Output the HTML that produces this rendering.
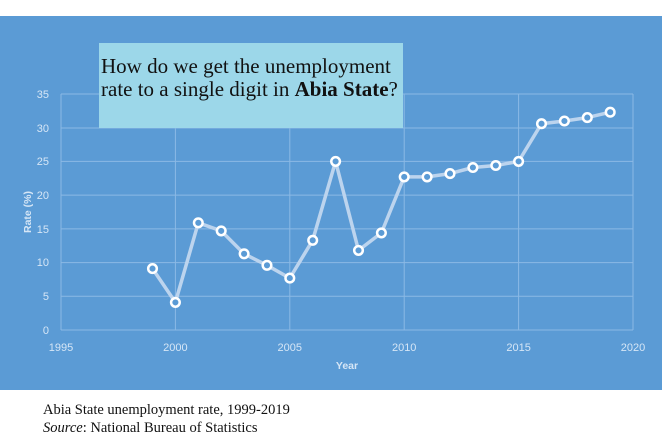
<!DOCTYPE html>
<html><head><meta charset="utf-8"><style>
body{margin:0;width:662px;height:440px;background:#fff;overflow:hidden;position:relative}
svg{position:absolute;left:0;top:0}
.box{position:absolute;left:99px;top:43px;width:304px;height:85px;background:#9cd7e9;font-family:"Liberation Serif",serif;font-size:21px;line-height:23px;color:#111;padding:12px 0 0 2px;box-sizing:border-box}
.cap{position:absolute;left:43px;top:401px;font-family:"Liberation Serif",serif;font-size:14.5px;line-height:18px;color:#111}
</style></head><body>
<svg width="662" height="440" font-family="Liberation Sans, sans-serif">
<rect x="0" y="16" width="662" height="374" fill="#5b9bd5"/>
<g stroke="#8bb9e5" stroke-width="1">
<line x1="61" y1="94" x2="633" y2="94"/><line x1="61" y1="128" x2="633" y2="128"/><line x1="61" y1="161.4" x2="633" y2="161.4"/><line x1="61" y1="195.1" x2="633" y2="195.1"/><line x1="61" y1="228.9" x2="633" y2="228.9"/><line x1="61" y1="262.6" x2="633" y2="262.6"/><line x1="61" y1="296.3" x2="633" y2="296.3"/><line x1="61" y1="330" x2="633" y2="330"/>
<line x1="61" y1="94" x2="61" y2="330"/><line x1="175.4" y1="94" x2="175.4" y2="330"/><line x1="289.8" y1="94" x2="289.8" y2="330"/><line x1="404.2" y1="94" x2="404.2" y2="330"/><line x1="518.6" y1="94" x2="518.6" y2="330"/><line x1="633" y1="94" x2="633" y2="330"/>
</g>
<g fill="#d6e6f6" font-size="11" text-anchor="end">
<text x="49" y="98">35</text><text x="49" y="132">30</text><text x="49" y="165">25</text><text x="49" y="199">20</text><text x="49" y="233">15</text><text x="49" y="266">10</text><text x="49" y="300">5</text><text x="49" y="334">0</text>
</g>
<g fill="#d6e6f6" font-size="11" text-anchor="middle">
<text x="61" y="351">1995</text><text x="175.4" y="351">2000</text><text x="289.8" y="351">2005</text><text x="404.2" y="351">2010</text><text x="518.6" y="351">2015</text><text x="633" y="351">2020</text>
<text x="347" y="369" font-weight="bold" font-size="10.5">Year</text>
<text transform="translate(31,212) rotate(-90)" font-weight="bold" font-size="10.5">Rate (%)</text>
</g>
<polyline fill="none" stroke="#bcd4ee" stroke-width="3.5" stroke-linejoin="round" points="152.5,268.6 175.4,302.4 198.3,222.8 221.2,230.9 244.1,253.8 267,265.3 289.8,278.1 312.7,240.3 335.6,161.4 358.5,250.4 381.4,232.9 404.2,176.9 427.1,176.9 450,173.6 472.9,167.5 495.8,165.5 518.6,161.4 541.5,123.7 564.4,121 587.3,117.6 610.2,112.2"/>
<g fill="#5b9bd5" stroke="#fff" stroke-width="2.5">
<circle cx="152.5" cy="268.6" r="4.3"/><circle cx="175.4" cy="302.4" r="4.3"/><circle cx="198.3" cy="222.8" r="4.3"/><circle cx="221.2" cy="230.9" r="4.3"/><circle cx="244.1" cy="253.8" r="4.3"/><circle cx="267" cy="265.3" r="4.3"/><circle cx="289.8" cy="278.1" r="4.3"/><circle cx="312.7" cy="240.3" r="4.3"/><circle cx="335.6" cy="161.4" r="4.3"/><circle cx="358.5" cy="250.4" r="4.3"/><circle cx="381.4" cy="232.9" r="4.3"/><circle cx="404.2" cy="176.9" r="4.3"/><circle cx="427.1" cy="176.9" r="4.3"/><circle cx="450" cy="173.6" r="4.3"/><circle cx="472.9" cy="167.5" r="4.3"/><circle cx="495.8" cy="165.5" r="4.3"/><circle cx="518.6" cy="161.4" r="4.3"/><circle cx="541.5" cy="123.7" r="4.3"/><circle cx="564.4" cy="121" r="4.3"/><circle cx="587.3" cy="117.6" r="4.3"/><circle cx="610.2" cy="112.2" r="4.3"/>
</g>
</svg>
<div class="box">How do we get the unemployment<br>rate to a single digit in <b>Abia State</b>?</div>
<div class="cap">Abia State unemployment rate, 1999-2019<br><i>Source</i>: National Bureau of Statistics</div>
</body></html>
